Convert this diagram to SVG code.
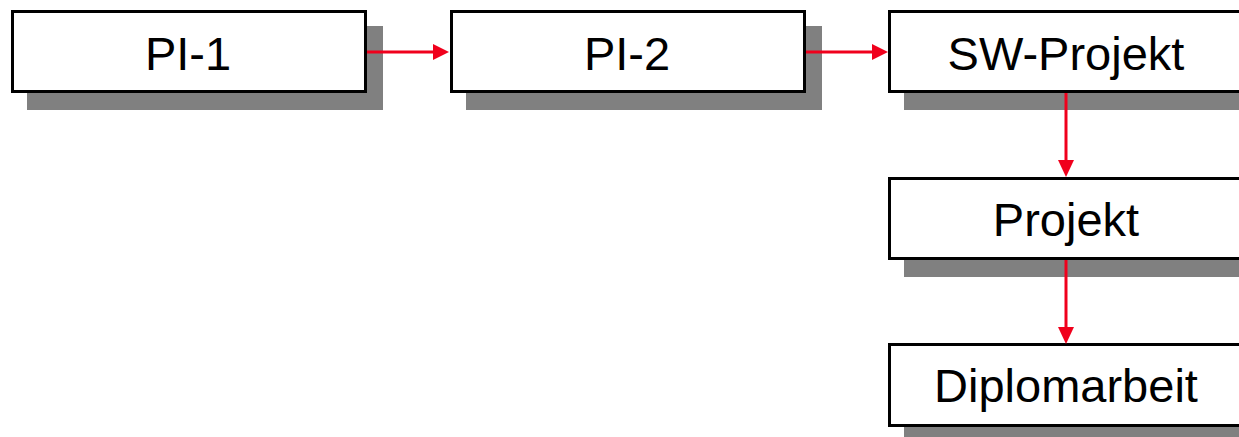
<svg xmlns="http://www.w3.org/2000/svg" width="1239" height="437" viewBox="0 0 1239 437">
<style>
.sh{fill:#808080}
.bx{fill:#fff;stroke:#000;stroke-width:3}
.t{font-family:"Liberation Sans",Arial,sans-serif;font-size:47px;fill:#000;text-anchor:middle}
.c{stroke:#f0001c;stroke-width:3;fill:none}
.h{fill:#f0001c}
</style>
<rect width="1239" height="437" fill="#fff"/>
<g id="n1"><rect class="sh" x="27" y="26" width="356" height="84"/><rect class="bx" x="12.5" y="11.5" width="353" height="80"/><text class="t" x="188" y="70">PI-1</text></g>
<g id="n2"><rect class="sh" x="466" y="26" width="356" height="84"/><rect class="bx" x="451.5" y="11.5" width="353" height="80"/><text class="t" x="627" y="70">PI-2</text></g>
<g id="n3"><rect class="sh" x="904" y="26" width="356" height="84"/><rect class="bx" x="889.5" y="11.5" width="353" height="80"/><text class="t" x="1066" y="70">SW-Projekt</text></g>
<g id="n4"><rect class="sh" x="904" y="193" width="356" height="84"/><rect class="bx" x="889.5" y="178.5" width="353" height="80"/><text class="t" x="1066" y="236">Projekt</text></g>
<g id="n5"><rect class="sh" x="904" y="359" width="356" height="84"/><rect class="bx" x="889.5" y="344.5" width="353" height="81"/><text class="t" x="1066" y="402">Diplomarbeit</text></g>
<g id="connectors">
<line class="c" x1="367" y1="52" x2="435" y2="52"/><polygon class="h" points="433,44 449,52 433,60"/>
<line class="c" x1="806" y1="52" x2="873" y2="52"/><polygon class="h" points="872,44 888,52 872,60"/>
<line class="c" x1="1066" y1="93" x2="1066" y2="162"/><polygon class="h" points="1058,160 1066,177 1074,160"/>
<line class="c" x1="1066" y1="260" x2="1066" y2="329"/><polygon class="h" points="1058,327 1066,344 1074,327"/>
</g>
</svg>
